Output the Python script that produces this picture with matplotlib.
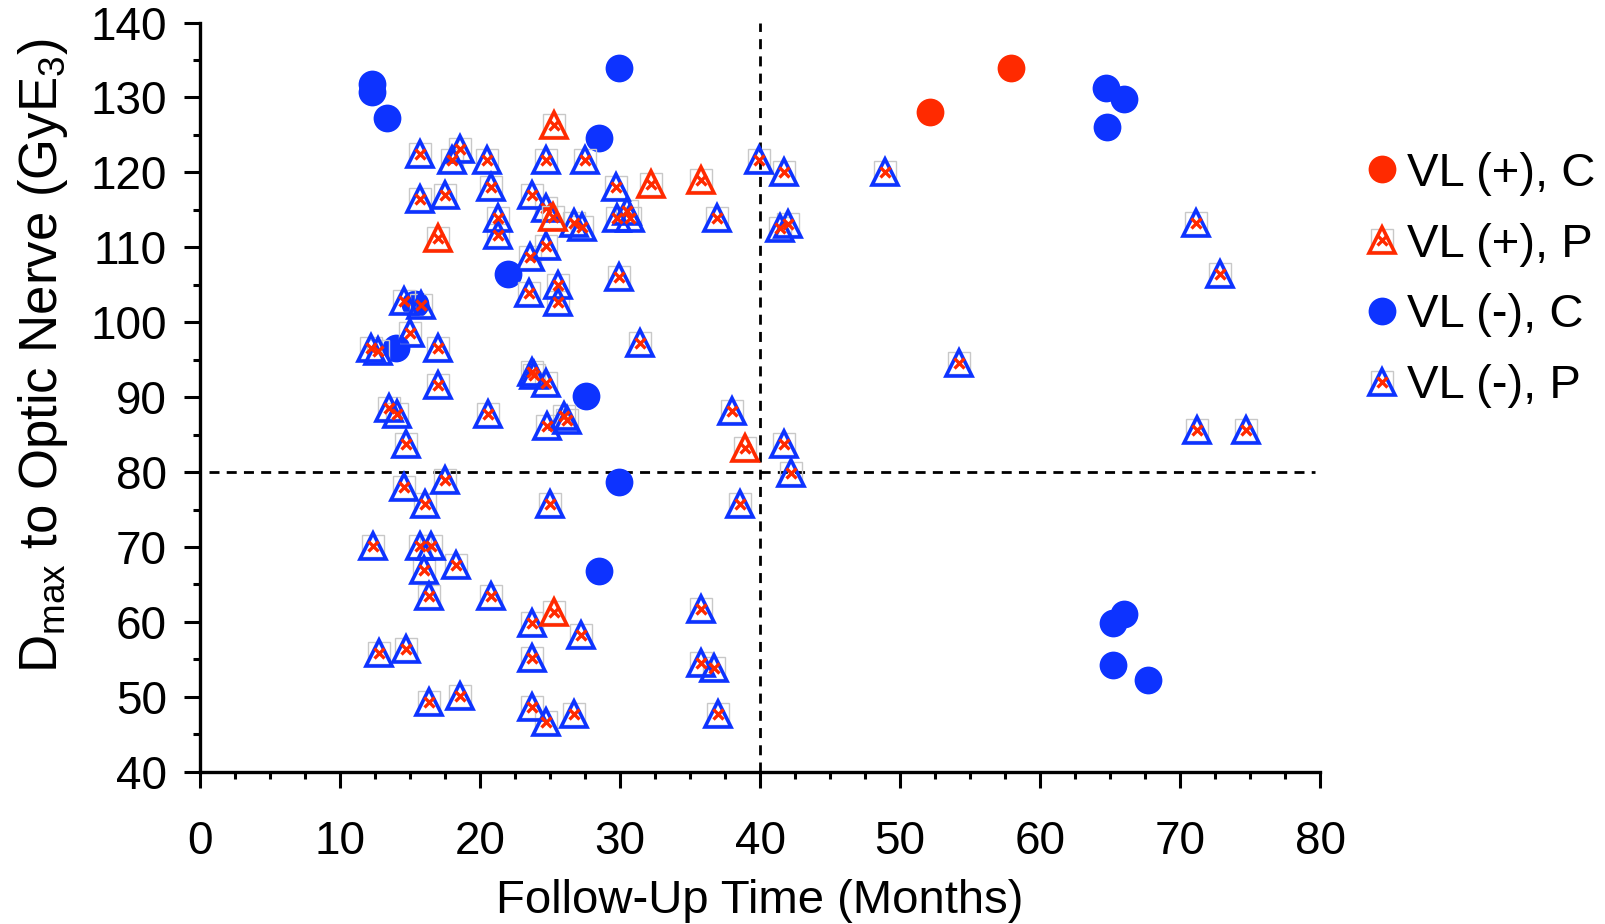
import matplotlib
matplotlib.use("Agg")
import matplotlib.pyplot as plt
from matplotlib.ticker import MultipleLocator

plt.rcParams["font.family"] = ["Liberation Sans", "DejaVu Sans"]
plt.rcParams["mathtext.default"] = "regular"

RED = "#ff2a00"
BLUE = "#0d33ff"
BOX = "#c8c8c8"

# VL (+), C
vlp_c_x = [52.1, 57.9]
vlp_c_y = [128.1, 133.9]

# VL (+), P
vlp_p_x = [25.3, 17.0, 32.2, 35.8, 25.2, 38.9, 25.3]
vlp_p_y = [126.3, 111.2, 118.4, 119.0, 114.0, 83.2, 61.3]

# VL (-), C
vln_c_x = [12.3, 12.3, 13.4, 29.9, 28.5, 22.0, 15.4, 14.0, 27.6, 29.9, 28.5,
           64.7, 66.0, 64.8, 65.2, 66.0, 65.2, 67.7]
vln_c_y = [131.8, 130.7, 127.2, 133.9, 124.6, 106.4, 102.4, 96.6, 90.1, 78.7,
           66.8, 131.3, 129.8, 126.1, 59.9, 61.0, 54.2, 52.3]

# VL (-), P
vln_p_x = [15.7, 18.6, 18.0, 20.5, 24.7, 27.5, 39.9, 41.7, 48.9,
           15.7, 17.5, 20.8, 23.7, 29.7,
           21.3, 21.3, 24.7, 26.7, 27.3, 29.8, 30.7, 30.5, 36.9, 41.4, 42.0, 71.1,
           24.7, 23.6,
           29.9, 25.6, 72.8,
           23.5, 25.6, 14.6, 15.8,
           15.0, 12.2, 12.7, 17.0, 31.4, 54.2,
           23.7, 23.9, 24.7, 17.0,
           13.5, 14.1, 20.6, 26.0, 26.2, 24.8, 38.0, 71.2, 74.7,
           14.7, 41.7,
           42.2, 14.6, 17.5,
           16.1, 25.0, 38.6,
           12.4, 15.7, 16.5, 16.0, 18.3,
           16.4, 20.8,
           23.7, 27.2, 35.8,
           12.8, 14.7, 23.7, 35.8, 36.7,
           16.4, 18.6,
           23.7, 26.7, 24.7, 37.0]
vln_p_y = [122.5, 123.1, 121.7, 121.6, 121.6, 121.6, 121.7, 120.1, 120.1,
           116.4, 117.0, 118.0, 117.0, 118.0,
           113.9, 111.7, 115.3, 113.2, 112.7, 113.9, 113.9, 114.8, 113.9, 112.6, 113.1, 113.2,
           110.2, 108.7,
           106.1, 105.0, 106.5,
           103.9, 102.7, 102.9, 102.3,
           98.6, 96.6, 96.1, 96.6, 97.2, 94.5,
           93.4, 92.9, 91.9, 91.6,
           88.5, 87.8, 87.8, 87.5, 86.9, 86.2, 88.1, 85.6, 85.6,
           83.7, 83.7,
           79.9, 78.0, 78.9,
           75.8, 75.8, 75.8,
           70.1, 70.1, 70.1, 66.9, 67.6,
           63.4, 63.4,
           59.8, 58.2, 61.7,
           55.8, 56.4, 55.2, 54.5, 53.9,
           49.3, 50.1,
           48.6, 47.7, 46.6, 47.7]


def p_marker(ax, xs, ys, color, z):
    # grey box + open triangle + small red cross, as in the original symbol
    box = ax.plot(xs, ys, ls="none", marker="s", ms=16.5, mfc="none",
                  mec=BOX, mew=1.0, zorder=z)[0]
    tri = ax.plot(xs, ys, ls="none", marker="^", ms=19, mfc="none",
                  mec=color, mew=2.6, zorder=z + 0.1)[0]
    cross = ax.plot(xs, ys, ls="none", marker="x", ms=6.5, mec=RED,
                    mew=2.4, zorder=z + 0.2)[0]
    return box, tri, cross


fig = plt.figure(figsize=(16.05, 9.24), dpi=100)
ax = fig.add_axes([0.1244, 0.1647, 0.6983, 0.8109])

dash = (0, (3.6, 2.6))
ax.axvline(40, color="black", lw=2.0, ls=dash, zorder=1)
ax.axhline(80, color="black", lw=2.0, ls=dash, zorder=1,
           xmin=0.008, xmax=0.995)

c_neg = ax.plot(vln_c_x, vln_c_y, ls="none", marker="o", ms=20,
                color=BLUE, mec="none", zorder=2)[0]
p_neg = p_marker(ax, vln_p_x, vln_p_y, BLUE, 3)
p_pos = p_marker(ax, vlp_p_x, vlp_p_y, RED, 4)
c_pos = ax.plot(vlp_c_x, vlp_c_y, ls="none", marker="o", ms=20,
                color=RED, mec="none", zorder=5)[0]

ax.set_xlim(0, 80)
ax.set_ylim(40, 140)
ax.xaxis.set_major_locator(MultipleLocator(10))
ax.xaxis.set_minor_locator(MultipleLocator(2.5))
ax.yaxis.set_major_locator(MultipleLocator(10))
ax.yaxis.set_minor_locator(MultipleLocator(5))

for s in ("top", "right"):
    ax.spines[s].set_visible(False)
for s in ("left", "bottom"):
    ax.spines[s].set_linewidth(2.4)

ax.tick_params(which="major", direction="out", length=11.5, width=2.2)
ax.tick_params(which="minor", direction="out", length=5, width=2.2)
ax.tick_params(axis="y", which="major", pad=12)
ax.tick_params(axis="x", which="major", pad=23)
for lab in ax.get_xticklabels() + ax.get_yticklabels():
    lab.set_fontsize(33)

ax.set_xlabel("Follow-Up Time (Months)", fontsize=34, labelpad=11)
ax.set_ylabel("D$_{max}$ to Optic Nerve (GyE$_3$)", fontsize=38, labelpad=15)
ax.yaxis.label.set_y(0.556)

ax.legend([c_pos, p_pos, c_neg, p_neg],
          ["VL (+), C", "VL (+), P", "VL (-), C", "VL (-), P"],
          loc="upper left", bbox_to_anchor=(0.8377, 0.8615),
          bbox_transform=fig.transFigure, frameon=False, fontsize=34,
          handlelength=0.6, handletextpad=0.23, labelspacing=0.57,
          borderpad=0)

fig.savefig("out.png", dpi=100)
